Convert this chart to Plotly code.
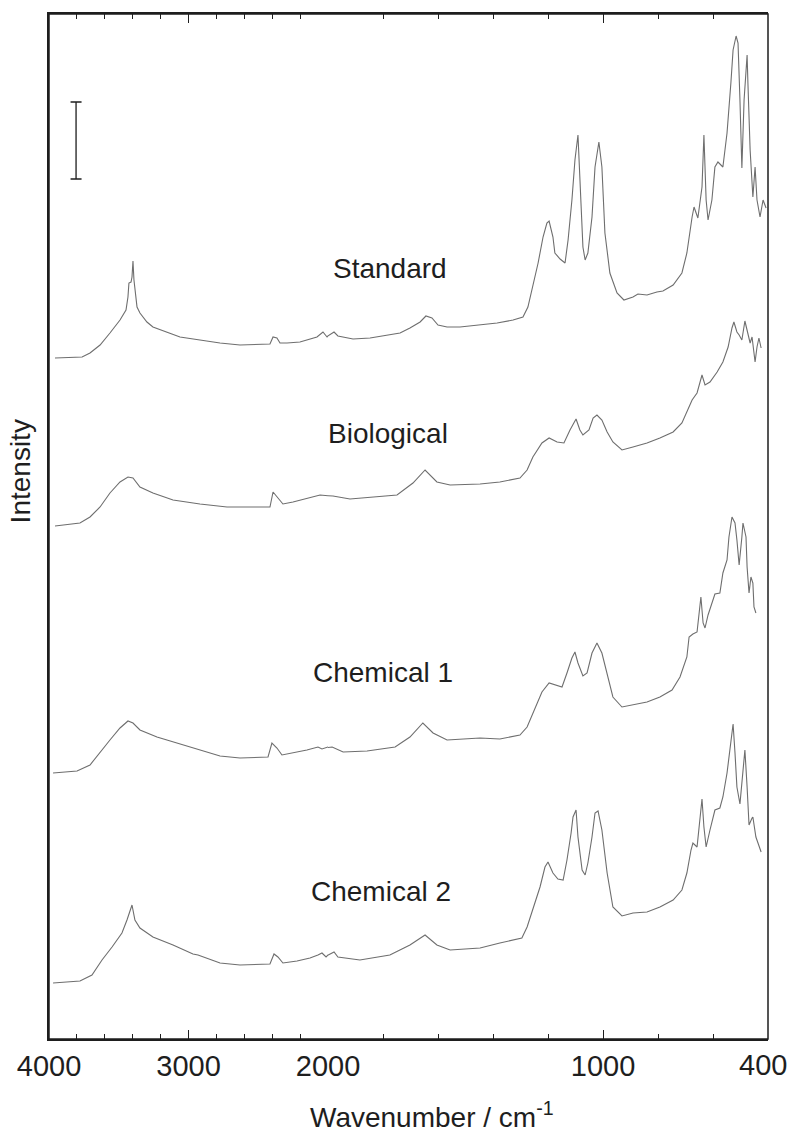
import numpy as np
import plotly.graph_objects as go

# ---- data: wavenumber (cm-1) and stacked intensity (arb. units) ----
standard_wn = [3957, 3763, 3706, 3634, 3563, 3491, 3448, 3434, 3427, 3412, 3405, 3398, 3391, 3369, 3348,
               3298, 3255, 3154, 3061, 2918, 2774, 2631, 2416, 2394, 2366, 2344, 2294, 2201, 2079, 2036,
               2007, 1978, 1964, 1945, 1909, 1847, 1785, 1738, 1702, 1665, 1644, 1622, 1600, 1567, 1520,
               1458, 1385, 1327, 1291, 1273, 1255, 1236, 1218, 1204, 1196, 1182, 1175, 1156, 1138, 1127,
               1113, 1102, 1091, 1084, 1073, 1065, 1055, 1040, 1029, 1015, 1004, 993, 975, 949, 924,
               891, 873, 840, 804, 782, 745, 713, 695, 676, 669, 655, 640, 633, 625, 618,
               604, 593, 582, 564, 549, 535, 527, 516, 509, 502, 495, 487, 476, 473, 465,
               455, 447, 440, 429, 418, 407]
standard_int = [681, 682, 686, 694, 706, 719, 729, 742, 756, 757, 762, 778, 759, 732, 726,
                717, 712, 707, 702, 699, 696, 694, 695, 702, 701, 696, 696, 697, 702, 707,
                702, 707, 703, 702, 700, 701, 704, 706, 711, 717, 723, 721, 714, 712, 712,
                714, 716, 719, 722, 732, 752, 776, 802, 816, 818, 802, 786, 780, 776, 799,
                839, 879, 904, 856, 792, 779, 786, 822, 872, 897, 872, 806, 766, 746, 739,
                742, 745, 744, 747, 748, 754, 766, 786, 822, 832, 821, 852, 904, 839, 819,
                839, 872, 877, 872, 906, 956, 989, 1003, 996, 939, 871, 939, 984, 956, 889,
                842, 872, 839, 822, 839, 831]

biological_wn = [3957, 3778, 3706, 3634, 3563, 3491, 3434, 3398, 3348, 3255, 3111, 2918, 2724, 2581, 2416,
                 2394, 2366, 2323, 2251, 2151, 2057, 1982, 1920, 1749, 1691, 1647, 1604, 1556, 1447, 1375,
                 1302, 1276, 1255, 1222, 1196, 1167, 1142, 1120, 1098, 1084, 1073, 1051, 1036, 1022, 1004,
                 985, 964, 931, 891, 840, 793, 745, 713, 695, 676, 658, 647, 640, 629, 611,
                 585, 564, 545, 538, 531, 524, 513, 505, 495, 484, 476, 465, 458, 447, 440,
                 433, 425]
biological_int = [513, 516, 522, 532, 546, 557, 562, 561, 552, 546, 539, 535, 532, 532, 532,
                  547, 542, 535, 537, 541, 544, 543, 540, 544, 556, 569, 557, 554, 555, 557,
                  561, 569, 582, 596, 601, 597, 596, 609, 620, 609, 604, 609, 621, 624, 619,
                  607, 597, 589, 592, 596, 601, 607, 616, 627, 639, 646, 656, 664, 654, 657,
                  667, 677, 692, 702, 711, 717, 707, 704, 699, 718, 709, 696, 702, 677, 692,
                  701, 691]

chemical1_wn = [3971, 3799, 3706, 3634, 3563, 3491, 3434, 3398, 3348, 3226, 3111, 2968, 2918, 2774, 2631,
                2430, 2402, 2366, 2330, 2251, 2151, 2072, 2043, 2000, 1985, 1945, 1858, 1756, 1702, 1655,
                1618, 1567, 1447, 1375, 1302, 1276, 1255, 1222, 1196, 1167, 1149, 1131, 1113, 1102, 1091,
                1073, 1058, 1040, 1022, 1004, 985, 964, 931, 891, 840, 793, 749, 720, 695, 687,
                673, 658, 651, 644, 636, 629, 618, 604, 593, 575, 564, 549, 542, 531, 520,
                513, 505, 495, 491, 480, 476, 469, 462, 455, 451, 444]
chemical1_int = [266, 268, 274, 287, 299, 311, 318, 316, 309, 302, 297, 291, 289, 283, 281,
                 282, 296, 291, 284, 286, 289, 292, 290, 292, 292, 287, 288, 292, 302, 316,
                 306, 299, 301, 300, 304, 312, 326, 347, 356, 354, 352, 366, 381, 387, 376,
                 363, 366, 386, 396, 386, 366, 342, 332, 334, 337, 342, 349, 362, 382, 402,
                 405, 407, 426, 442, 416, 411, 424, 436, 445, 446, 466, 479, 502, 522, 516,
                 499, 474, 502, 516, 502, 472, 446, 462, 456, 432, 426]

chemical2_wn = [3971, 3778, 3692, 3620, 3548, 3477, 3441, 3419, 3405, 3384, 3348, 3255, 3111, 2968, 2932,
                2774, 2631, 2416, 2387, 2359, 2323, 2222, 2129, 2072, 2043, 2014, 1978, 1964, 1884, 1775,
                1702, 1647, 1604, 1556, 1447, 1375, 1295, 1276, 1255, 1229, 1211, 1200, 1182, 1164, 1145,
                1131, 1116, 1109, 1098, 1091, 1076, 1065, 1055, 1040, 1029, 1018, 1004, 985, 964, 931,
                891, 840, 793, 745, 713, 695, 680, 673, 658, 647, 640, 633, 625, 611, 593,
                575, 564, 549, 538, 527, 520, 513, 502, 491, 484, 476, 469, 458, 455, 444,
                436, 425]
chemical2_int = [56, 58, 64, 79, 92, 106, 119, 129, 134, 119, 111, 102, 94, 85, 84,
                 76, 74, 75, 85, 82, 76, 78, 81, 84, 86, 82, 87, 82, 79, 84,
                 94, 104, 94, 89, 91, 96, 101, 112, 129, 152, 172, 177, 166, 160, 159,
                 179, 206, 222, 229, 202, 169, 164, 176, 202, 226, 228, 209, 166, 132, 123,
                 126, 127, 132, 139, 149, 166, 189, 196, 192, 219, 240, 212, 192, 209, 229,
                 231, 242, 266, 292, 315, 286, 252, 235, 272, 289, 252, 214, 221, 222, 202,
                 196, 187]

spectra = [
    ("Standard", standard_wn, standard_int),
    ("Biological", biological_wn, biological_int),
    ("Chemical 1", chemical1_wn, chemical1_int),
    ("Chemical 2", chemical2_wn, chemical2_int),
]

# label anchors (wavenumber, intensity) for the sample names
label_names = ["Standard", "Biological", "Chemical 1", "Chemical 2"]
label_wn = [1775, 1782, 1800, 1807]
label_int = [771, 606, 367, 148]

# x tick labels: left (compressed 4000-2000) part and right (2000-400) part
left_ticks = [4000, 3000, 2000]
right_ticks = [1000, 400]

# intensity scale bar (wavenumber position, centre, half-length)
scalebar_wn = [3806]
scalebar_int = [898.5]
scalebar_half = [38.5]

BREAK = 2000  # x-axis scale changes at 2000 cm-1
line_color = "#6e6e6e"
ink = "#1e1e1e"
font_family = "Liberation Sans, Arial, sans-serif"

fig = go.Figure()

for name, wn, it in spectra:
    wn = np.asarray(wn, dtype=float)
    it = np.asarray(it, dtype=float)
    hi = np.where(wn >= BREAK)[0]
    lo = np.where(wn <= BREAK)[0]
    left_end = min(hi.max() + 2, len(wn))
    right_start = max(lo.min() - 1, 0)
    fig.add_trace(go.Scatter(x=wn[:left_end], y=it[:left_end], mode="lines",
                             line=dict(color=line_color, width=1.1),
                             xaxis="x", yaxis="y", showlegend=False, name=name))
    fig.add_trace(go.Scatter(x=wn[right_start:], y=it[right_start:], mode="lines",
                             line=dict(color=line_color, width=1.1),
                             xaxis="x2", yaxis="y", showlegend=False, name=name))

# scale bar
fig.add_trace(go.Scatter(x=scalebar_wn, y=scalebar_int, mode="markers",
                         marker=dict(size=1, opacity=0),
                         error_y=dict(type="data", array=scalebar_half, symmetric=True,
                                      width=5.5, thickness=1.3, color=ink),
                         xaxis="x", yaxis="y", showlegend=False, hoverinfo="skip"))

split = 279 / 719

tickfont = dict(family=font_family, size=29, color=ink)
common_x = dict(showgrid=False, zeroline=False, showline=True, linecolor=ink, linewidth=1.5,
                mirror="ticks", ticks="inside", ticklen=9, tickwidth=1.3, tickcolor=ink,
                tickfont=tickfont, automargin=False, ticklabeloverflow="allow",
                minor=dict(tickmode="linear", tick0=0, dtick=200, ticks="inside",
                           ticklen=5, tickwidth=1.1, tickcolor=ink))

fig.update_layout(
    width=790, height=1133,
    margin=dict(l=49, r=22, t=14, b=94),
    paper_bgcolor="white", plot_bgcolor="white",
    xaxis=dict(domain=[0, split], range=[4000, BREAK], anchor="y",
               tickmode="array", tickvals=left_ticks, ticktext=[str(v) for v in left_ticks],
               **common_x),
    xaxis2=dict(domain=[split, 1], range=[BREAK, 400], anchor="y",
                tickmode="array", tickvals=right_ticks[:-1],
                ticktext=[str(v) for v in right_ticks[:-1]],
                **common_x),
    yaxis=dict(range=[0, 1025], showgrid=False, zeroline=False, showticklabels=False,
               ticks="", showline=True, linecolor=ink, linewidth=1.5, automargin=False),
    shapes=[dict(type="rect", xref="paper", yref="paper", x0=0, x1=1, y0=0, y1=1,
                 line=dict(color=ink, width=1.5), fillcolor="rgba(0,0,0,0)", layer="above")],
)

# end-of-axis label, right-aligned so it stays inside the page
fig.add_annotation(x=1, y=-0.0254, xref="paper", yref="paper", text=str(right_ticks[-1]),
                   showarrow=False, font=tickfont, xanchor="right", yanchor="middle", xshift=21)

for name, lx, ly in zip(label_names, label_wn, label_int):
    fig.add_annotation(x=lx, y=ly, xref="x2", yref="y", text=name, showarrow=False,
                       font=dict(family=font_family, size=28, color=ink),
                       xanchor="center", yanchor="middle")

fig.add_annotation(x=-0.040, y=0.554, xref="paper", yref="paper", text="Intensity",
                   textangle=-90, showarrow=False,
                   font=dict(family=font_family, size=28, color=ink),
                   xanchor="center", yanchor="middle")
fig.add_annotation(x=0.532, y=-0.074, xref="paper", yref="paper",
                   text="Wavenumber / cm<sup>-1</sup>", showarrow=False,
                   font=dict(family=font_family, size=28, color=ink),
                   xanchor="center", yanchor="middle")

fig.write_html("out.html")
